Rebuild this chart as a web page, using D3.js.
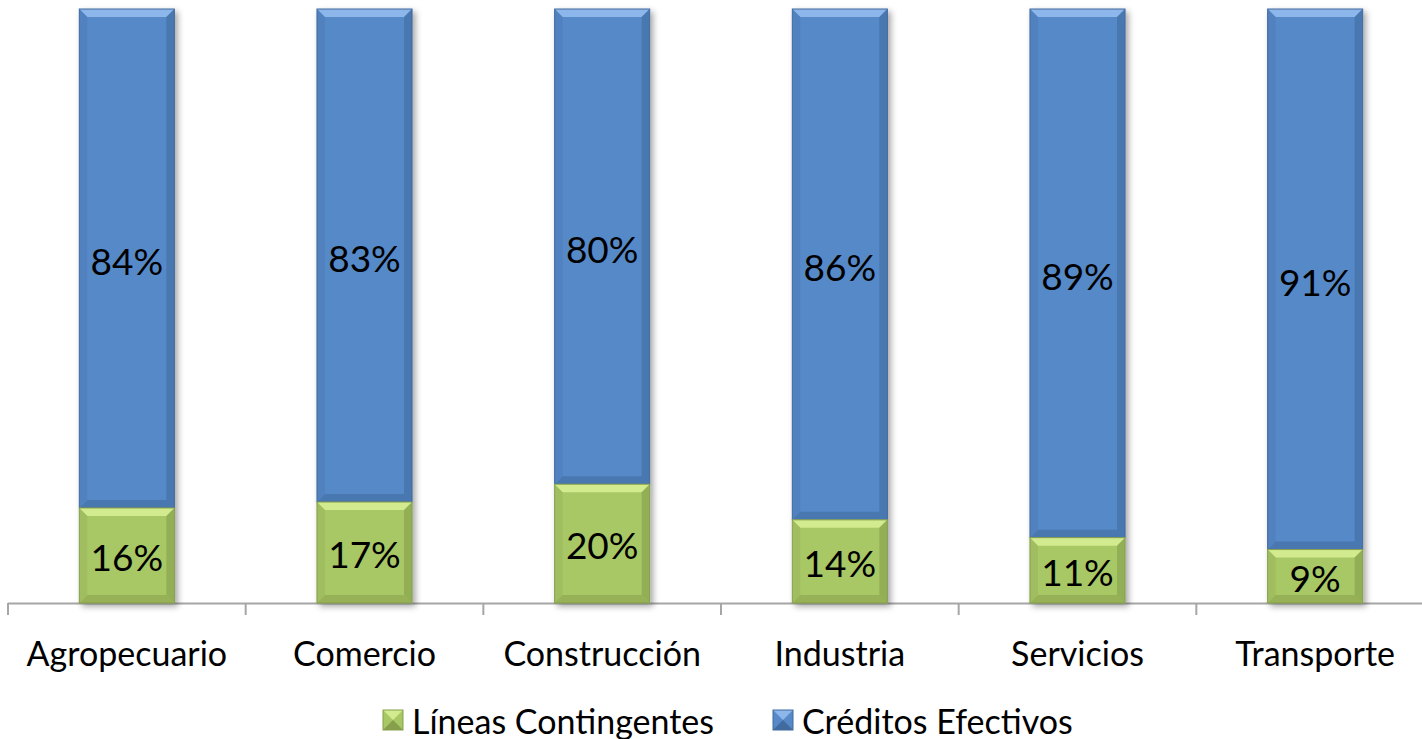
<!DOCTYPE html>
<html>
<head>
<meta charset="utf-8">
<script src="https://cdn.jsdelivr.net/npm/d3@7"></script>
<style>
  body { margin: 0; background: #fff; }
  text { font-family: "Lato", "Open Sans", sans-serif; }
</style>
</head>
<body>
<div id="chart"></div>
<script>
var categories = ["Agropecuario", "Comercio", "Construcción", "Industria", "Servicios", "Transporte"];
var lineas = [16, 17, 20, 14, 11, 9];
var creditos = [84, 83, 80, 86, 89, 91];
var seriesNames = ["Líneas Contingentes", "Créditos Efectivos"];

var width = 1422, height = 739;
var bevel = 8;

var colors = {
  green: { base: "#a8c765", light: "#d2eb8f", dark: "#869f4c", side: "#97b558" },
  blue:  { base: "#5689c8", light: "#8db6ea", dark: "#416a9e", side: "#4c7bb5" }
};

var svg = d3.select("#chart").append("svg")
  .attr("width", width)
  .attr("height", height);

var defs = svg.append("defs");
var shadow = defs.append("filter").attr("id", "shadow")
  .attr("x", "-20%").attr("y", "-20%").attr("width", "140%").attr("height", "140%");
shadow.append("feDropShadow")
  .attr("dx", 3).attr("dy", 3).attr("stdDeviation", 3)
  .attr("flood-color", "#000").attr("flood-opacity", 0.35);

var x = d3.scaleBand()
  .domain(categories)
  .range([8, 1434])
  .paddingInner(0.6)
  .paddingOuter(0.3);

var y = d3.scaleLinear()
  .domain([0, 100])
  .range([603, 9]);

var data = categories.map(function(c, i) {
  return { cat: c, lin: lineas[i], cre: creditos[i] };
});

// axis line + ticks at category boundaries
var step = x.step();
var axis = svg.append("g");
axis.append("line")
  .attr("x1", 8).attr("x2", width)
  .attr("y1", y(0) + 0.5).attr("y2", y(0) + 0.5)
  .attr("stroke", "#a6a6a6").attr("stroke-width", 2);
axis.selectAll(".tick")
  .data(d3.range(categories.length + 1))
  .enter().append("line")
  .attr("x1", function(i) { return 8 + i * step; })
  .attr("x2", function(i) { return 8 + i * step; })
  .attr("y1", y(0)).attr("y2", y(0) + 12)
  .attr("stroke", "#a6a6a6").attr("stroke-width", 2);

function drawSegment(g, x0, w, y0, y1, c) {
  var h = y1 - y0;
  var b = Math.min(bevel, h / 2);
  var seg = g.append("g");
  seg.append("rect")
    .attr("x", x0).attr("y", y0).attr("width", w).attr("height", h)
    .attr("fill", c.base);
  // top bevel
  seg.append("polygon")
    .attr("points", [[x0, y0], [x0 + w, y0], [x0 + w - b, y0 + b], [x0 + b, y0 + b]].join(" "))
    .attr("fill", c.light);
  // bottom bevel
  seg.append("polygon")
    .attr("points", [[x0, y1], [x0 + w, y1], [x0 + w - b, y1 - b], [x0 + b, y1 - b]].join(" "))
    .attr("fill", c.dark).attr("opacity", 0.55);
  // sides
  seg.append("polygon")
    .attr("points", [[x0, y0], [x0 + b, y0 + b], [x0 + b, y1 - b], [x0, y1]].join(" "))
    .attr("fill", c.side).attr("opacity", 0.5);
  seg.append("polygon")
    .attr("points", [[x0 + w, y0], [x0 + w - b, y0 + b], [x0 + w - b, y1 - b], [x0 + w, y1]].join(" "))
    .attr("fill", c.dark).attr("opacity", 0.6);
  seg.append("rect")
    .attr("x", x0).attr("y", y0).attr("width", w).attr("height", h)
    .attr("fill", "none").attr("stroke", c.dark).attr("stroke-width", 1);
}

var bars = svg.selectAll(".bar")
  .data(data)
  .enter().append("g")
  .attr("class", "bar")
  .attr("filter", "url(#shadow)");

bars.each(function(d) {
  var g = d3.select(this);
  var x0 = x(d.cat), w = x.bandwidth();
  drawSegment(g, x0, w, y(d.lin + d.cre), y(d.lin), colors.blue);
  drawSegment(g, x0, w, y(d.lin), y(0), colors.green);
});

var labels = svg.append("g");
data.forEach(function(d) {
  var cx = x(d.cat) + x.bandwidth() / 2;
  labels.append("text")
    .attr("x", cx).attr("y", (y(d.lin + d.cre) + y(d.lin)) / 2 + 2)
    .attr("text-anchor", "middle").attr("dominant-baseline", "central")
    .attr("font-size", 37).attr("fill", "#000")
    .text(d.cre + "%");
  labels.append("text")
    .attr("x", cx).attr("y", (y(d.lin) + y(0)) / 2 + 1)
    .attr("text-anchor", "middle").attr("dominant-baseline", "central")
    .attr("font-size", 37).attr("fill", "#000")
    .text(d.lin + "%");
});

svg.append("g").selectAll("text")
  .data(categories)
  .enter().append("text")
  .attr("x", function(c) { return x(c) + x.bandwidth() / 2; })
  .attr("y", 652)
  .attr("text-anchor", "middle").attr("dominant-baseline", "central")
  .attr("font-size", 34).attr("fill", "#000")
  .text(function(c) { return c; });

// legend
var legendItems = [
  { name: seriesNames[0], c: colors.green, x: 383 },
  { name: seriesNames[1], c: colors.blue, x: 773 }
];
var legend = svg.append("g");
legendItems.forEach(function(it) {
  var g = legend.append("g");
  var s = 20, ly = 710;
  g.append("rect").attr("x", it.x).attr("y", ly).attr("width", s).attr("height", s).attr("fill", it.c.base);
  g.append("polygon").attr("points", [[it.x, ly], [it.x + s, ly], [it.x + s / 2, ly + s / 2]].join(" ")).attr("fill", it.c.light);
  g.append("polygon").attr("points", [[it.x, ly + s], [it.x + s, ly + s], [it.x + s / 2, ly + s / 2]].join(" ")).attr("fill", it.c.dark);
  g.append("rect").attr("x", it.x).attr("y", ly).attr("width", s).attr("height", s).attr("fill", "none").attr("stroke", it.c.dark);
  g.append("text")
    .attr("x", it.x + s + 9).attr("y", ly + s / 2)
    .attr("dominant-baseline", "central")
    .attr("font-size", 34).attr("fill", "#000")
    .text(it.name);
});
</script>
</body>
</html>
